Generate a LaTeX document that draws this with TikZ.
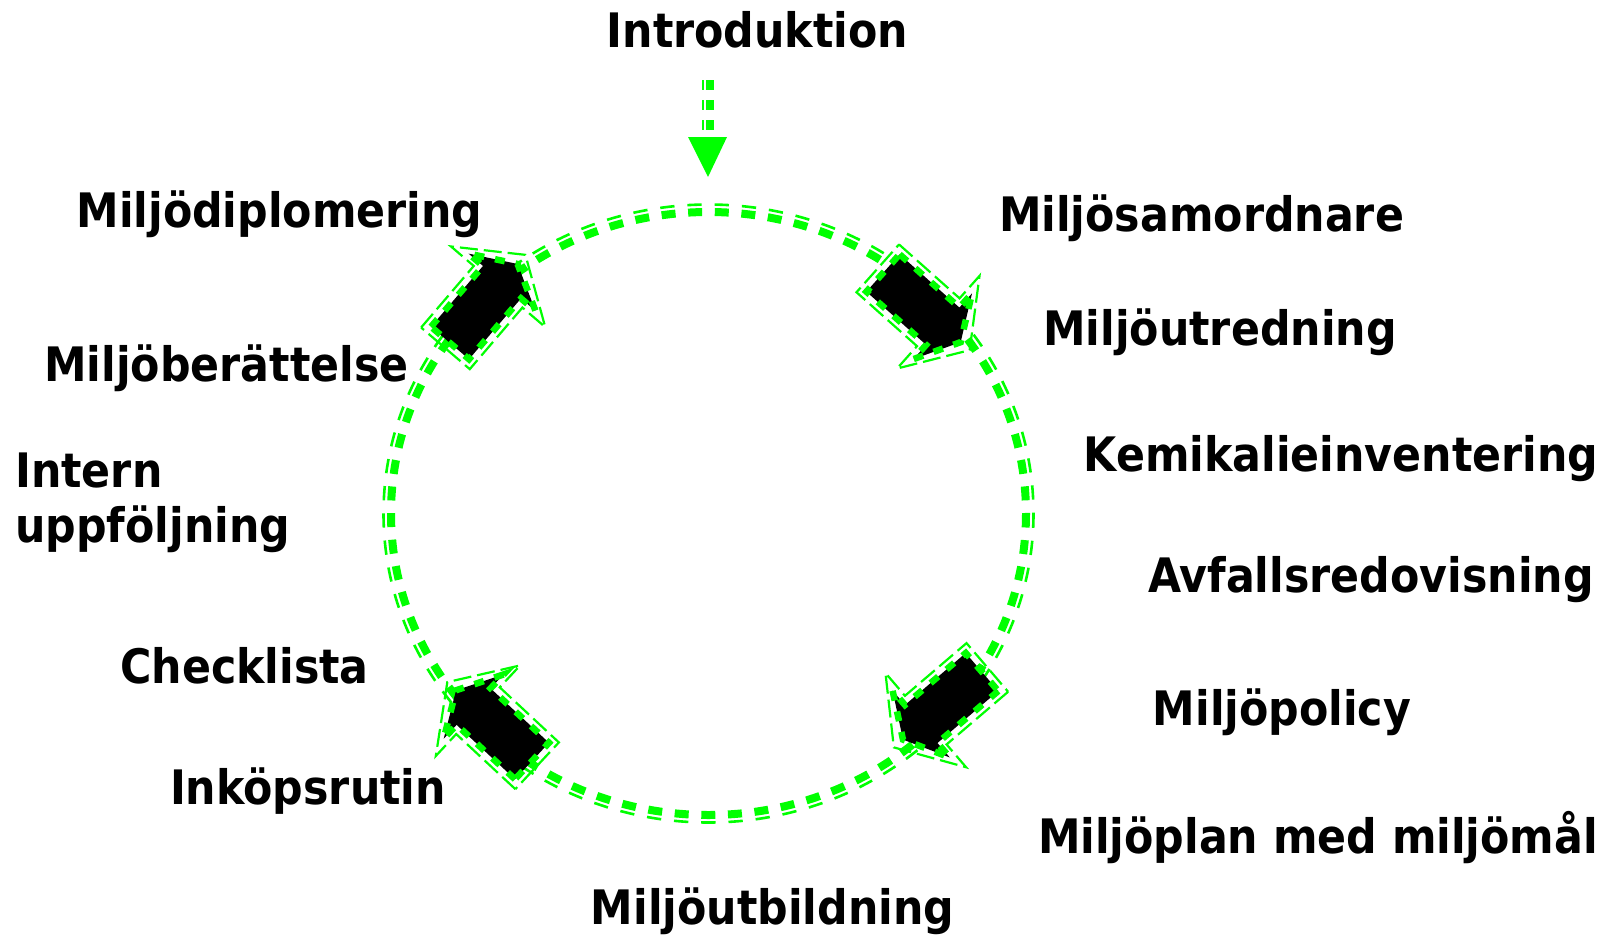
\documentclass[tikz,border=0pt]{standalone}
\usepackage{fontspec}
\newfontfamily\lblfont{DejaVu Sans Condensed}
\definecolor{glime}{RGB}{0,255,0}
\tikzset{
  lbl/.style={font={\lblfont\bfseries\fontsize{47.5pt}{50pt}\selectfont}, anchor=base, inner sep=0pt, text=black},
  lblw/.style={lbl, anchor=base west},
  ringthick/.style={draw=glime, line width=8pt, dash pattern=on 14pt off 12.64pt},
  ringthin/.style={draw=glime, line width=2.6pt, dash pattern=on 14.34pt off 12.94pt},
  arrthick/.style={draw=glime, line width=6.5pt, dash pattern=on 10pt off 11pt, line join=miter},
  arrthin/.style={draw=glime, line width=2.2pt, dash pattern=on 18pt off 6pt, line join=miter},
  shaftthick/.style={draw=glime, line width=8pt, dash pattern=on 10pt off 10pt},
  shaftthin/.style={draw=glime, line width=2.5pt, dash pattern=on 10pt off 10pt},
}
\newcommand\blkarrow[6]{%
  \begin{scope}[shift={(#1,#2)}, x={(#3pt,#4pt)}, y={(#5pt,#6pt)}]
    \fill[black] (0,-25) -- (80,-25) -- (80,-44) -- (104,0) -- (80,44) -- (80,25) -- (0,25) -- cycle;
    \draw[arrthick] (0,-25) -- (80,-25) -- (80,-44) -- (104,0) -- (80,44) -- (80,25) -- (0,25) -- cycle;
    \draw[arrthin] (-7,-32) -- (74,-32) -- (74,-62) -- (116,0) -- (74,62) -- (74,32) -- (-7,32) -- cycle;
  \end{scope}}
\begin{document}
\begin{tikzpicture}[x=1pt, y=-1pt]
\useasboundingbox (0,0) rectangle (1607,935);
% ring
\coordinate (ringc) at (708.5,513.5);
\draw[ringthin] (ringc) ellipse [x radius=325, y radius=309];
\draw[ringthick] (ringc) ellipse [x radius=317.5, y radius=301.5];
% block arrows on the ring
\blkarrow{883}{273}{0.747}{-0.665}{-0.665}{-0.747}
\blkarrow{450}{343}{0.65}{0.76}{0.76}{-0.65}
\blkarrow{982}{672}{-0.76}{-0.65}{-0.65}{0.76}
\blkarrow{532}{761}{-0.73}{0.68}{0.68}{0.73}
% labels
\node[lbl] (intro) at (757.5,47) {Introduktion};
\node[lbl] (dipl) at (279.5,227) {Miljödiplomering};
\node[lbl] (samord) at (1201.5,231) {Miljösamordnare};
\node[lbl] (utred) at (1220,345) {Miljöutredning};
\node[lbl] (berat) at (226.5,381) {Miljöberättelse};
\node[lblw] (intern1) at (15,487) {Intern};
\node[lblw] (intern2) at (15,542) {uppföljning};
\node[lbl] (kemi) at (1341,471) {Kemikalieinventering};
\node[lbl] (avfall) at (1371,592) {Avfallsredovisning};
\node[lbl] (check) at (244.5,683) {Checklista};
\node[lbl] (policy) at (1282,725) {Miljöpolicy};
\node[lbl] (inkop) at (308,804) {Inköpsrutin};
\node[lbl] (plan) at (1318,853) {Miljöplan med miljömål};
\node[lbl] (utbild) at (772.5,924) {Miljöutbildning};
% entry arrow
\coordinate (entry) at (708,80);
\coordinate (entryhead) at (708,137);
\coordinate (entrytip) at (708,177);
\draw[shaftthin] ([xshift=-5pt]entry) -- ([xshift=-5pt]entryhead);
\draw[shaftthick] ([xshift=2pt]entry) -- ([xshift=2pt]entryhead);
\fill[glime] ([xshift=-20pt]entryhead) -- ([xshift=19pt]entryhead) -- (entrytip) -- cycle;
\end{tikzpicture}
\end{document}
